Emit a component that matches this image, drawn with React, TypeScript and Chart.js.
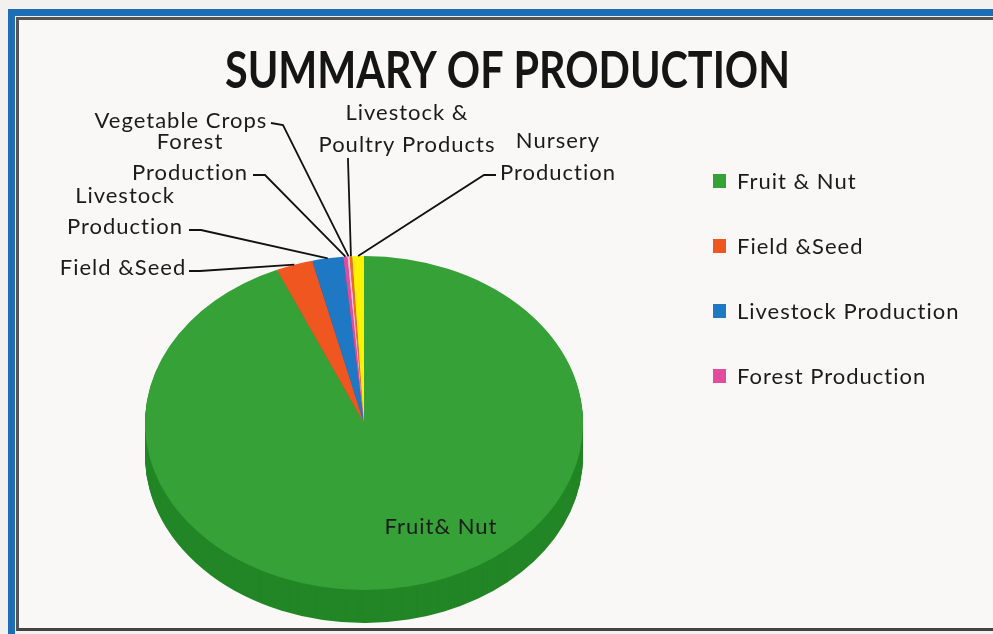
import React, { useEffect, useRef } from 'react';
import { Chart, registerables } from 'chart.js';

Chart.register(...registerables);

// ---- data ----
const categories = [
  'Fruit & Nut',
  'Field &Seed',
  'Livestock Production',
  'Forest Production',
  'Vegetable Crops',
  'Livestock & Poultry Products',
  'Nursery Production',
];
const values = [93.5, 2.7, 2.3, 0.3, 0.15, 0.2, 0.85];
const labelText = [
  ['Fruit& Nut'],
  ['Field &Seed'],
  ['Livestock', 'Production'],
  ['Forest', 'Production'],
  ['Vegetable Crops'],
  ['Livestock &', 'Poultry Products'],
  ['Nursery', 'Production'],
];
const legendCount = 4;
const titleText = 'SUMMARY OF PRODUCTION';

// ---- styles / layout ----
const colors = ['#35a137', '#f0561f', '#1f78c4', '#e24c9c', '#f4bcd6', '#ec6a2a', '#fff200'];
const sideColors = ['#238626', '#c8441a', '#185f9c', '#b83a7c', '#c890a8', '#c05020', '#d0c400'];
const TOP_CY = 423; // screen center of the top face
const TILT = 167 / 219; // vertical squash
const DEPTH = 33;
const FONT = '"Lato", "Open Sans", sans-serif';
const TEXT = '#1b1b1b';

type LabelLayout = { x: number; y: number; lh: number; start?: [number, number]; elbow?: [number, number] };
const labelLayout: LabelLayout[] = [
  { x: 441, y: 527, lh: 31 },
  { x: 123, y: 268, lh: 31, start: [189, 271], elbow: [200, 271] },
  { x: 125, y: 196, lh: 31, start: [189, 230], elbow: [201, 230] },
  { x: 190, y: 142, lh: 31, start: [253, 175], elbow: [265, 175] },
  { x: 181, y: 121, lh: 31, start: [271, 123], elbow: [283, 125] },
  { x: 407, y: 113, lh: 32, start: [348, 158], elbow: [348, 160] },
  { x: 558, y: 141, lh: 32, start: [496, 175], elbow: [484, 175] },
];

const pie3d = {
  id: 'pie3d',
  beforeDatasetsDraw(chart: any) {
    const meta = chart.getDatasetMeta(0);
    const ctx: CanvasRenderingContext2D = chart.ctx;
    const cy0 = meta.data[0].y;
    for (let d = DEPTH; d >= 1; d--) {
      ctx.save();
      ctx.translate(0, TOP_CY + d);
      ctx.scale(1, TILT);
      ctx.translate(0, -cy0);
      meta.data.forEach((arc: any, i: number) => {
        const o = arc.options;
        const bg = o.backgroundColor;
        o.backgroundColor = sideColors[i];
        arc.draw(ctx);
        o.backgroundColor = bg;
      });
      ctx.restore();
    }
    ctx.save();
    ctx.translate(0, TOP_CY);
    ctx.scale(1, TILT);
    ctx.translate(0, -cy0);
    meta.data.forEach((arc: any) => arc.draw(ctx));
    ctx.restore();
    return false;
  },
  afterDraw(chart: any) {
    const ctx: any = chart.ctx;
    const meta = chart.getDatasetMeta(0);
    const cy0 = meta.data[0].y;

    // title
    ctx.save();
    ctx.font = `bold 52px ${FONT}`;
    ctx.fillStyle = '#151515';
    ctx.textBaseline = 'alphabetic';
    ctx.textAlign = 'left';
    const tw = ctx.measureText(titleText).width;
    const sx = 565 / tw;
    ctx.translate(225, 88);
    ctx.scale(sx, 1);
    ctx.fillText(titleText, 0, 0);
    ctx.restore();

    // data labels + leader lines
    ctx.save();
    ctx.font = `22px ${FONT}`;
    ctx.letterSpacing = '1px';
    ctx.fillStyle = TEXT;
    ctx.textAlign = 'center';
    ctx.textBaseline = 'middle';
    labelText.forEach((lines, i) => {
      const L = labelLayout[i];
      lines.forEach((t, k) => ctx.fillText(t, L.x, L.y + k * L.lh));
      if (L.start && L.elbow) {
        const arc: any = meta.data[i];
        const mid = (arc.startAngle + arc.endAngle) / 2;
        const ax = arc.x + Math.cos(mid) * arc.outerRadius;
        const ay = TOP_CY + (arc.y + Math.sin(mid) * arc.outerRadius - cy0) * TILT;
        ctx.beginPath();
        ctx.strokeStyle = '#111';
        ctx.lineWidth = 1.8;
        ctx.moveTo(L.start[0], L.start[1]);
        ctx.lineTo(L.elbow[0], L.elbow[1]);
        ctx.lineTo(ax, ay);
        ctx.stroke();
      }
    });
    ctx.restore();

    // legend
    ctx.save();
    ctx.font = `22px ${FONT}`;
    ctx.letterSpacing = '1px';
    ctx.textAlign = 'left';
    ctx.textBaseline = 'middle';
    for (let i = 0; i < legendCount; i++) {
      const y = 181 + i * 65;
      ctx.fillStyle = colors[i];
      ctx.fillRect(713, y - 7, 13, 14);
      ctx.fillStyle = TEXT;
      ctx.fillText(categories[i], 737, y + 1);
    }
    ctx.restore();
  },
};

export default function App() {
  const ref = useRef<HTMLCanvasElement>(null);
  useEffect(() => {
    document.body.style.margin = '0';
    const chart = new Chart(ref.current as HTMLCanvasElement, {
      type: 'pie',
      data: {
        labels: categories,
        datasets: [{ data: values, backgroundColor: colors, borderWidth: 0 }],
      },
      options: {
        responsive: false,
        animation: false,
        layout: { padding: { left: 145, right: 410, top: 98, bottom: 98 } },
        plugins: {
          legend: { display: false },
          tooltip: { enabled: false },
          title: { display: false },
        },
      },
      plugins: [pie3d as any],
    });
    return () => chart.destroy();
  }, []);

  return (
    <div
      style={{
        position: 'fixed',
        left: 0,
        top: 0,
        width: 993,
        height: 634,
        overflow: 'hidden',
        background: '#f3f1ef',
      }}
    >
      <div
        style={{
          position: 'absolute',
          left: 8,
          top: 9,
          width: 1100,
          height: 800,
          border: '7px solid #1d6db5',
          boxSizing: 'border-box',
        }}
      />
      <div
        style={{
          position: 'absolute',
          left: 16,
          top: 17,
          width: 1100,
          height: 614,
          borderLeft: '3px solid #555',
          borderTop: '3px solid #555',
          borderBottom: '3px solid #444',
          boxSizing: 'border-box',
          background: '#f9f8f6',
        }}
      />
      <canvas
        ref={ref}
        width={993}
        height={634}
        style={{ position: 'absolute', left: 0, top: 0, width: 993, height: 634 }}
      />
    </div>
  );
}
